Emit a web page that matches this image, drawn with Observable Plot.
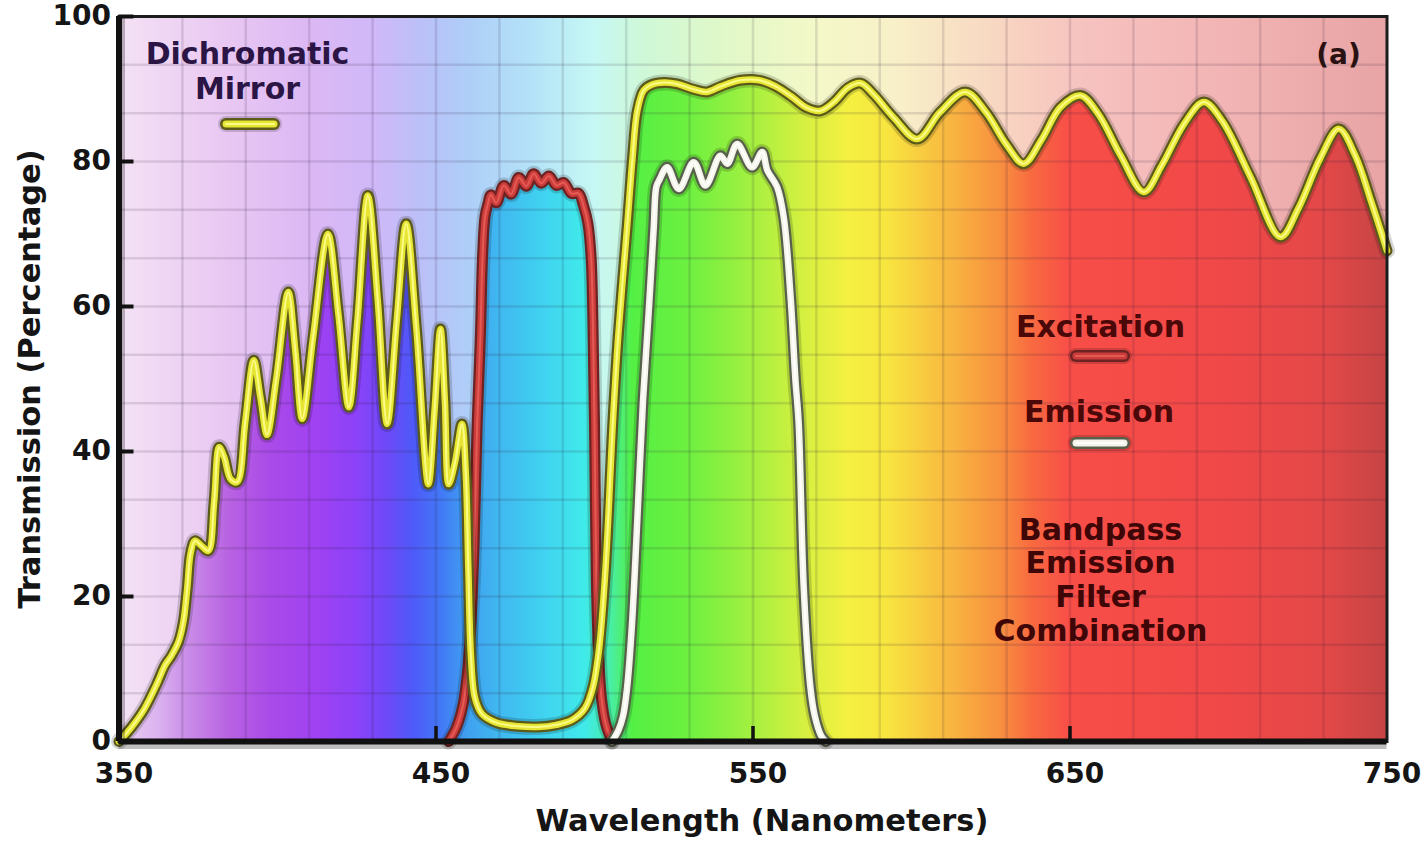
<!DOCTYPE html>
<html>
<head>
<meta charset="utf-8">
<script src="https://cdn.jsdelivr.net/npm/d3@7"></script>
<script src="https://cdn.jsdelivr.net/npm/@observablehq/plot@0.6"></script>
<style>
  html, body { margin: 0; padding: 0; background: #ffffff; }
  #chart svg { display: block; }
</style>
</head>
<body>
<div id="chart"></div>
<script>
// ---------- DATA ----------
const mirrorWavelength = [350,354,358,362,364.5,366.5,368.8,370.3,371.5,372.6,374,376,378.2,380,381.6,383.2,385.2,387.3,389.8,392.5,394.6,396.7,399.6,403.4,405.6,407.8,411.3,415.9,419.2,422.5,425.2,428.5,431.6,434.6,437.6,440.6,443.8,447.6,449.6,451.4,452.8,454,456,458.2,459.4,460.2,461,462.3,464.5,469,476,482,488,493,497,499.5,501.5,503.5,505.8,507.5,510.3,512,513.5,515.5,518,522,526,531,535.5,540,546,552,557,562,567,571.3,575.5,580,584,588,594.5,601.8,609,617,623.5,630,635.4,641,647,653.3,659,666,673.3,679,686,692.2,698,707,716.4,722,729,734.8,740,745,750];
const mirrorTransmission = [0,2,4.5,8,10.5,11.8,13.8,16.5,21,26,27.7,27,26.3,33,40.6,39.2,36.2,35.8,44,52.6,47.5,42.3,50,62,54,44.5,56,70,59,46.1,58,75.3,61,43.8,58,71.4,57,35.5,46,56.9,47,35.5,38.5,43.8,37,24,12,6,3.8,2.6,2.1,2,2.3,3,4.6,7.5,13,24,44,56,71,80.5,87,89.8,90.6,90.9,90.7,90,89.6,90.4,91.2,91.2,90.4,89,87.4,87,88.2,90.2,90.8,89.3,86,83.1,86.8,89.6,86.8,82.3,79.7,83,87.5,89.1,86.5,80.8,75.8,79.5,85.2,88.2,85.6,77.8,69.6,73.5,80.5,84.5,80.8,74.5,67.7];

const excitationWavelength = [454,456.5,458.5,459.8,461,462,463,464,464.7,465.5,466.4,467.3,469,471.4,473.7,476.1,478.5,480.8,483.2,485.6,488,490.3,492.7,495,496.6,497.9,498.9,499.5,500,500.6,501.3,502.2,503.5,505.5];
const excitationTransmission = [0,2,5,9,16,27,44,56,67,72.5,74.2,75.4,74.3,76.7,75.5,77.8,76.6,78.3,77,78,76.7,77.1,75.6,75.6,73.8,71.5,67,58,44,22,12,6,2.5,0];

const emissionWavelength = [505.5,507.5,509,510.3,511.8,513.5,515.3,517.2,518.7,519.5,520.5,522.9,526.6,531.3,535,539.7,541.9,545,549.7,552.9,554.5,557.6,559.7,561.8,563.4,564.4,566,568.1,569.5,571.5,573];
const emissionTransmission = [0,1.5,3.5,7.5,16,30.5,47,60,71,76.5,77.5,79.2,76.2,79.9,76.7,80.8,79.7,82.4,79.2,81.3,78.8,76.5,72.3,61.7,49.8,44,21.3,7.5,3.5,0.8,0];

// tick labels and grid positions
const xTicks = [350, 450, 550, 650, 750];
const xInnerTicks = [450, 550, 650];
const yTicks = [0, 20, 40, 60, 80, 100];
const xGrid = [370, 390, 410, 430, 450, 470, 490, 510, 530, 550, 570, 590, 610, 630, 650, 670, 690, 710, 730];
const yGrid = [20/3, 40/3, 20, 80/3, 100/3, 40, 140/3, 160/3, 60, 200/3, 220/3, 80, 260/3, 280/3];

// ---------- STYLE ----------
const saturatedStops = [
  [350, "#ead0f2"], [362, "#dcb4f0"], [372, "#c98ce8"], [385, "#b862e2"], [398, "#a94ae8"],
  [412, "#a042f2"], [425, "#8c42f8"], [435, "#6c4af8"], [443, "#4e5af8"], [452, "#427af6"],
  [460, "#40a0f0"], [470, "#40b8f0"], [485, "#40d4f0"], [497, "#40eaea"], [505, "#48eea8"],
  [512, "#54f044"], [530, "#6ef040"], [545, "#96f040"], [558, "#bef040"], [568, "#daf040"],
  [580, "#f4f040"], [592, "#f8e640"], [605, "#f8c840"], [615, "#f8b040"], [628, "#f89040"],
  [638, "#f86a40"], [650, "#f84e48"], [700, "#f04848"], [730, "#e44848"], [750, "#c64444"]
];
const pastelStops = [
  [350, "#f4e2f5"], [380, "#eacaf2"], [410, "#dcb8f4"], [430, "#d0b8f8"], [445, "#bcc0f8"],
  [460, "#aecef8"], [480, "#b4e2f8"], [500, "#c6f8f4"], [515, "#cef8d8"], [540, "#e0f8c8"],
  [570, "#f4f8c8"], [595, "#f8f0c8"], [615, "#f8e0c4"], [635, "#f8d0c0"], [655, "#f6c2c0"],
  [700, "#f2b4b4"], [750, "#e8a4a4"]
];

const W = 1421, H = 842;
const mLeft = 118.5, mRight = 34.5, mTop = 16, mBottom = 101;
const frameW = W - mLeft - mRight, frameH = H - mTop - mBottom;
const tickLen = 15;

const table = (xs, ys) => xs.map((w, i) => ({wavelength: w, transmission: ys[i]}));
const mirror = table(mirrorWavelength, mirrorTransmission);
const excitation = table(excitationWavelength, excitationTransmission);
const emission = table(emissionWavelength, emissionTransmission);

const curve = "catmull-rom";
const glowLine = (data, outline, body, highlight) => [
  Plot.line(data, {x: "wavelength", y: "transmission", curve, stroke: "#000", strokeOpacity: 0.16, strokeWidth: 16, strokeLinejoin: "round"}),
  Plot.line(data, {x: "wavelength", y: "transmission", curve, stroke: outline, strokeWidth: 11, strokeLinejoin: "round"}),
  Plot.line(data, {x: "wavelength", y: "transmission", curve, stroke: body, strokeWidth: 6.5, strokeLinejoin: "round"}),
  Plot.line(data, {x: "wavelength", y: "transmission", curve, stroke: highlight, strokeWidth: 2, strokeLinejoin: "round"})
];

const font = "DejaVu Sans, Verdana, sans-serif";
const ink = "#151515";
const label = (text, dx, dy, fill, extra = {}) =>
  Plot.text([text], {frameAnchor: "top-left", dx, dy, textAnchor: "middle", lineAnchor: "middle", fontSize: 30, fontWeight: "bold", fill, ...extra});

const plot = Plot.plot({
  width: W,
  height: H,
  marginLeft: mLeft,
  marginRight: mRight,
  marginTop: mTop,
  marginBottom: mBottom,
  style: {fontFamily: font, background: "#ffffff", overflow: "visible"},
  x: {domain: [350, 750], axis: null},
  y: {domain: [0, 100], axis: null},
  marks: [
    Plot.frame({fill: "url(#pastelGrad)", stroke: "none"}),
    Plot.areaY(mirror, {x: "wavelength", y: "transmission", curve, fill: "url(#spectrumGrad)"}),
    Plot.areaY(excitation, {x: "wavelength", y: "transmission", curve, fill: "url(#spectrumGrad)"}),
    Plot.areaY(emission, {x: "wavelength", y: "transmission", curve, fill: "url(#spectrumGrad)"}),
    Plot.ruleX(xGrid, {x: d => d, stroke: "#2a1838", strokeOpacity: 0.13, strokeWidth: 2.5}),
    Plot.ruleY(yGrid, {y: d => d, stroke: "#2a1838", strokeOpacity: 0.13, strokeWidth: 2.5}),
    ...glowLine(excitation, "#6e2222", "#cc3c3a", "#e45a55"),
    ...glowLine(emission, "#56604a", "#f4f4ea", "#ffffff"),
    ...glowLine(mirror, "#5c5a1a", "#e6e632", "#fbfb8a"),
    Plot.frame({stroke: "#1c1c1c", strokeWidth: 3}),
    Plot.ruleX([350], {x: d => d, stroke: "#000", strokeOpacity: 0.25, strokeWidth: 6, dx: 3}),
    Plot.ruleY([0], {y: d => d, stroke: "#000", strokeOpacity: 0.25, strokeWidth: 7, dy: 4}),
    Plot.ruleX([350], {x: d => d, stroke: "#111", strokeWidth: 6}),
    Plot.ruleY([0], {y: d => d, stroke: "#111", strokeWidth: 6}),
    Plot.tickX(xInnerTicks, {x: d => d, insetTop: frameH - tickLen, stroke: "#111", strokeWidth: 3.5}),
    Plot.tickY(yTicks, {y: d => d, insetRight: frameW - tickLen, stroke: "#111", strokeWidth: 4}),
    Plot.text(xTicks, {x: d => d, text: d => String(d), frameAnchor: "bottom", lineAnchor: "middle", dy: 33, dx: 5, fontSize: 28, fontWeight: "bold", fill: ink}),
    Plot.text(yTicks, {y: d => d, text: d => String(d), frameAnchor: "left", dx: -8, textAnchor: "end", fontSize: 28, fontWeight: "bold", fill: ink}),
    Plot.text(["Transmission (Percentage)"], {frameAnchor: "left", textAnchor: "middle", lineAnchor: "middle", dx: -88.5, rotate: -90, fontSize: 30.5, fontWeight: "bold", fill: ink}),
    Plot.text(["Wavelength (Nanometers)"], {frameAnchor: "bottom", textAnchor: "middle", lineAnchor: "middle", dx: 9, dy: 80, fontSize: 30.5, fontWeight: "bold", fill: ink}),
    label("Dichromatic\nMirror", 128.5, 53.5, "#2a1545", {lineHeight: 1.17}),
    label("(a)", 1219.5, 39, "#2a1212", {fontSize: 28}),
    label("Excitation", 981.5, 311, "#4a0808"),
    label("Emission", 980, 396, "#4a0808"),
    label("Bandpass\nEmission\nFilter\nCombination", 981.5, 563, "#3e0606", {lineHeight: 1.13})
  ]
});

// gradients positioned through the x scale
const xs = plot.scale("x");
const x0 = xs.apply(350), x1 = xs.apply(750);
const defs = d3.select(plot).insert("defs", ":first-child");
function addGradient(id, stops) {
  const g = defs.append("linearGradient")
    .attr("id", id).attr("gradientUnits", "userSpaceOnUse")
    .attr("x1", x0).attr("x2", x1).attr("y1", 0).attr("y2", 0);
  for (const [nm, c] of stops) {
    g.append("stop").attr("offset", (xs.apply(nm) - x0) / (x1 - x0)).attr("stop-color", c);
  }
}
addGradient("spectrumGrad", saturatedStops);
addGradient("pastelGrad", pastelStops);

// legend swatches (frame-relative placement)
const swatches = [
  {dx: 131.5, dy: 108, outline: "#5c5a1a", body: "#e6e632", highlight: "#fbfb8a"},
  {dx: 981.5, dy: 340, outline: "#6e2222", body: "#cc3c3a", highlight: "#e45a55"},
  {dx: 981.5, dy: 427, outline: "#56604a", body: "#f4f4ea", highlight: "#ffffff"}
];
const sg = d3.select(plot).append("g");
for (const s of swatches) {
  const cx = mLeft + s.dx, cy = mTop + s.dy;
  const layer = (stroke, w, op) => sg.append("line")
    .attr("x1", cx - 24).attr("x2", cx + 24).attr("y1", cy).attr("y2", cy)
    .attr("stroke", stroke).attr("stroke-width", w).attr("stroke-opacity", op)
    .attr("stroke-linecap", "round");
  layer("#000", 16, 0.16);
  layer(s.outline, 12, 1);
  layer(s.body, 7, 1);
  layer(s.highlight, 2, 1);
}

document.getElementById("chart").appendChild(plot);
</script>
</body>
</html>
